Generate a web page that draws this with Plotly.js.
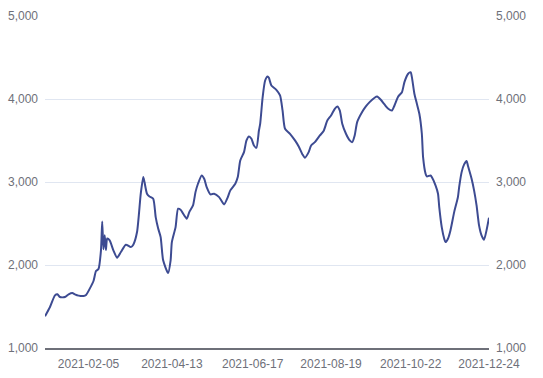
<!DOCTYPE html>
<html>
<head>
<meta charset="utf-8">
<script src="https://cdn.plot.ly/plotly-3.0.1.min.js"></script>
<style>
  html, body { margin: 0; padding: 0; background: #ffffff; }
  #chart { width: 543px; height: 378px; }
</style>
</head>
<body>
<div id="chart"></div>
<script>
// Sampled dates of the series
var dates = [
  '2021-01-01','2021-01-05','2021-01-09','2021-01-11','2021-01-13','2021-01-17','2021-01-20','2021-01-23','2021-01-25','2021-01-28',
  '2021-02-01','2021-02-03','2021-02-06','2021-02-09','2021-02-11','2021-02-13','2021-02-15','2021-02-16','2021-02-17','2021-02-18',
  '2021-02-19','2021-02-20','2021-02-22','2021-02-25','2021-02-28','2021-03-03','2021-03-07','2021-03-11','2021-03-13','2021-03-16',
  '2021-03-19','2021-03-21','2021-03-22','2021-03-24','2021-03-26','2021-03-29','2021-03-31','2021-04-02','2021-04-04','2021-04-06',
  '2021-04-10','2021-04-12','2021-04-13','2021-04-16','2021-04-18','2021-04-20','2021-04-25','2021-04-27','2021-04-30','2021-05-02',
  '2021-05-04','2021-05-07','2021-05-09','2021-05-11','2021-05-14','2021-05-17','2021-05-21','2021-05-25','2021-05-28','2021-05-30',
  '2021-06-03','2021-06-05','2021-06-07','2021-06-10','2021-06-12','2021-06-14','2021-06-16','2021-06-18','2021-06-20','2021-06-22',
  '2021-06-23','2021-06-25','2021-06-27','2021-06-29','2021-06-30','2021-07-02','2021-07-06','2021-07-09','2021-07-11','2021-07-13',
  '2021-07-17','2021-07-21','2021-07-24','2021-07-27','2021-07-29','2021-08-01','2021-08-03','2021-08-06','2021-08-10','2021-08-13',
  '2021-08-16','2021-08-19','2021-08-22','2021-08-24','2021-08-26','2021-08-28','2021-08-31','2021-09-03','2021-09-05','2021-09-07',
  '2021-09-09','2021-09-13','2021-09-16','2021-09-19','2021-09-23','2021-09-25','2021-09-28','2021-10-01','2021-10-04','2021-10-07',
  '2021-10-09','2021-10-12','2021-10-15','2021-10-17','2021-10-20','2021-10-22','2021-10-23','2021-10-25','2021-10-27','2021-10-29',
  '2021-10-31','2021-11-01','2021-11-03','2021-11-04','2021-11-07','2021-11-08','2021-11-11','2021-11-13','2021-11-14','2021-11-16',
  '2021-11-18','2021-11-19','2021-11-21','2021-11-23','2021-11-26','2021-11-29','2021-11-30','2021-12-02','2021-12-04','2021-12-06',
  '2021-12-07','2021-12-10','2021-12-12','2021-12-14','2021-12-16','2021-12-18','2021-12-20','2021-12-22','2021-12-24'
];

// Series values
var values = [
  1382,1494,1634,1647,1614,1614,1647,1662,1647,1631,
  1626,1638,1715,1807,1927,1951,2176,2525,2190,2357,
  2180,2320,2297,2176,2088,2156,2245,2216,2245,2397,
  2859,3059,2999,2859,2826,2799,2577,2440,2336,2056,
  1903,2056,2276,2457,2678,2666,2558,2637,2718,2878,
  2979,3079,3039,2938,2851,2859,2818,2730,2818,2899,
  2979,3059,3260,3360,3501,3549,3521,3440,3413,3620,
  3700,4022,4223,4271,4255,4163,4111,4043,3862,3641,
  3581,3501,3428,3332,3292,3360,3440,3480,3561,3613,
  3741,3801,3882,3910,3862,3702,3581,3501,3480,3561,
  3721,3842,3910,3962,4015,4030,3991,3934,3882,3862,
  3922,4030,4082,4203,4304,4323,4263,4063,3943,3822,
  3581,3300,3100,3067,3079,3059,2959,2859,2698,2457,
  2317,2276,2317,2417,2637,2818,2938,3119,3212,3252,
  3200,3040,2899,2718,2477,2357,2305,2417,2570
];

// Axis tick labels
var xTickDates = ['2021-02-05','2021-04-13','2021-06-17','2021-08-19','2021-10-22','2021-12-24'];
var yTicks = [1000, 2000, 3000, 4000, 5000];

var labelFont = { family: 'Liberation Sans, Arial, sans-serif', size: 12, color: '#6E7079' };

var traces = [
  {
    x: dates, y: values, type: 'scatter', mode: 'lines',
    line: { color: '#3d4b92', width: 2, shape: 'spline', smoothing: 0.6 },
    xaxis: 'x', yaxis: 'y', hoverinfo: 'x+y'
  },
  {
    x: dates, y: values, type: 'scatter', mode: 'lines',
    line: { color: 'rgba(0,0,0,0)', width: 0 },
    xaxis: 'x', yaxis: 'y2', hoverinfo: 'skip', showlegend: false
  }
];

var layout = {
  width: 543, height: 378,
  margin: { l: 45, r: 54, t: 16, b: 30, pad: 0 },
  paper_bgcolor: '#ffffff', plot_bgcolor: '#ffffff',
  showlegend: false,
  font: labelFont,
  xaxis: {
    type: 'date',
    range: ['2021-01-01', '2021-12-24'],
    tickmode: 'array',
    tickvals: xTickDates,
    ticktext: xTickDates,
    showgrid: false, zeroline: false,
    showline: true, linecolor: '#6E7079', linewidth: 1.5,
    ticks: '', tickfont: labelFont, ticklabelstandoff: 4
  },
  yaxis: {
    range: [1000, 5000],
    tickmode: 'array', tickvals: yTicks, tickformat: ',d',
    showgrid: true, gridcolor: '#E0E6F1', gridwidth: 1,
    zeroline: false, showline: false, ticks: '',
    tickfont: labelFont, ticklabelstandoff: 6
  },
  yaxis2: {
    overlaying: 'y', side: 'right', anchor: 'x',
    range: [1000, 5000],
    tickmode: 'array', tickvals: yTicks, tickformat: ',d',
    showgrid: false, zeroline: false, showline: false, ticks: '',
    tickfont: labelFont, ticklabelstandoff: 6
  }
};

Plotly.newPlot('chart', traces, layout, { displayModeBar: false, staticPlot: true });
</script>
</body>
</html>
